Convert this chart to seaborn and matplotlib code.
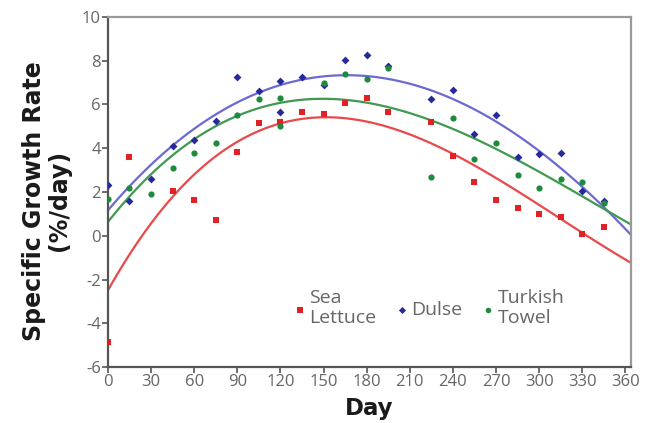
import numpy as np
import pandas as pd
import matplotlib
matplotlib.use("Agg")
import matplotlib.pyplot as plt
import seaborn as sns

# ---------------- data ----------------
red_day = [0, 15, 45, 60, 75, 90, 105, 120, 135, 150, 165, 180, 195, 225, 240, 255, 270, 285, 300, 315, 330, 345]
red_val = [-4.85, 3.6, 2.05, 1.65, 0.7, 3.85, 5.15, 5.2, 5.65, 5.55, 6.05, 6.3, 5.65, 5.2, 3.65, 2.45, 1.65, 1.25, 1.0, 0.85, 0.1, 0.4]

blue_day = [0, 15, 30, 45, 60, 75, 90, 105, 120, 120, 135, 150, 165, 180, 195, 225, 240, 255, 270, 285, 300, 315, 330, 345]
blue_val = [2.3, 1.6, 2.6, 4.1, 4.4, 5.25, 7.25, 6.6, 7.05, 5.65, 7.25, 6.9, 8.05, 8.25, 7.75, 6.25, 6.65, 4.65, 5.5, 3.6, 3.75, 3.8, 2.05, 1.6]

green_day = [0, 15, 30, 45, 60, 75, 90, 105, 120, 120, 150, 165, 180, 195, 225, 240, 255, 270, 285, 300, 315, 330, 345]
green_val = [1.7, 2.2, 1.9, 3.1, 3.8, 4.25, 5.5, 6.25, 6.3, 5.0, 7.0, 7.4, 7.15, 7.65, 2.7, 5.4, 3.5, 4.25, 2.8, 2.2, 2.6, 2.45, 1.5]

series_names = ["Sea\nLettuce", "Dulse", "Turkish\nTowel"]
x_ticks = list(range(0, 361, 30))
y_ticks = list(range(-6, 11, 2))

# ---------------- style ----------------
sns.set_style("ticks")
plt.rcParams["font.family"] = ["Open Sans", "DejaVu Sans"]

fig = plt.figure(figsize=(6.5, 4.23), dpi=100)
ax = fig.add_axes([0.166, 0.132, 0.805, 0.828])
# limits first so the fitted lines span the whole axis
ax.set_xlim(0, 364)
ax.set_ylim(-6, 10)

point_cols = ["#e32124", "#27289c", "#1d8a3c"]
line_cols = ["#e8494b", "#6a6ad2", "#3f9a50"]
markers = ["s", "D", "o"]
sizes = [22, 16, 20]

data = [(red_day, red_val), (blue_day, blue_val), (green_day, green_val)]
for (d, v), name, pc, lc, mk, sz in zip(data, series_names, point_cols, line_cols, markers, sizes):
    df = pd.DataFrame({"day": d, "rate": v})
    # 3rd order trend line through each series
    sns.regplot(data=df, x="day", y="rate", order=3, ci=None, scatter=False,
                truncate=False, ax=ax, line_kws={"color": lc, "lw": 1.6})
    sns.scatterplot(data=df, x="day", y="rate", ax=ax, color=pc, marker=mk,
                    s=sz, linewidth=0, label=name, zorder=3)

ax.set_xlim(0, 364)
ax.set_ylim(-6, 10)
ax.set_xticks(x_ticks)
ax.set_yticks(y_ticks)
ax.set_xticklabels([str(t) for t in x_ticks])
ax.set_yticklabels([str(t) for t in y_ticks])

for side in ["left", "bottom"]:
    ax.spines[side].set_color("#555555")
    ax.spines[side].set_linewidth(1.6)
for side in ["top", "right"]:
    ax.spines[side].set_visible(True)
    ax.spines[side].set_color("#999999")
    ax.spines[side].set_linewidth(1.6)

ax.tick_params(axis="both", colors="#555555", labelsize=12, length=4, width=1.2, pad=1)
for lab in ax.get_xticklabels() + ax.get_yticklabels():
    lab.set_color("#666666")

ax.set_xlabel("Day", fontsize=16.5, fontweight="bold", color="#1a1a1a", labelpad=5,
              family="DejaVu Sans")
ax.set_ylabel("Specific Growth Rate\n(%/day)", fontsize=17, fontweight="bold",
              color="#1a1a1a", labelpad=8, linespacing=1.05, family="DejaVu Sans")
ax.yaxis.label.set_y(0.475)

leg = ax.legend(loc="center", bbox_to_anchor=(0.61, 0.17), ncol=3, frameon=False,
                fontsize=14, handletextpad=0.0, columnspacing=0.8, markerscale=0.9,
                labelspacing=0.2, handlelength=1.0)
for t in leg.get_texts():
    t.set_color("#666666")
    t.set_linespacing(1.15)

fig.savefig("out.png", dpi=100)
